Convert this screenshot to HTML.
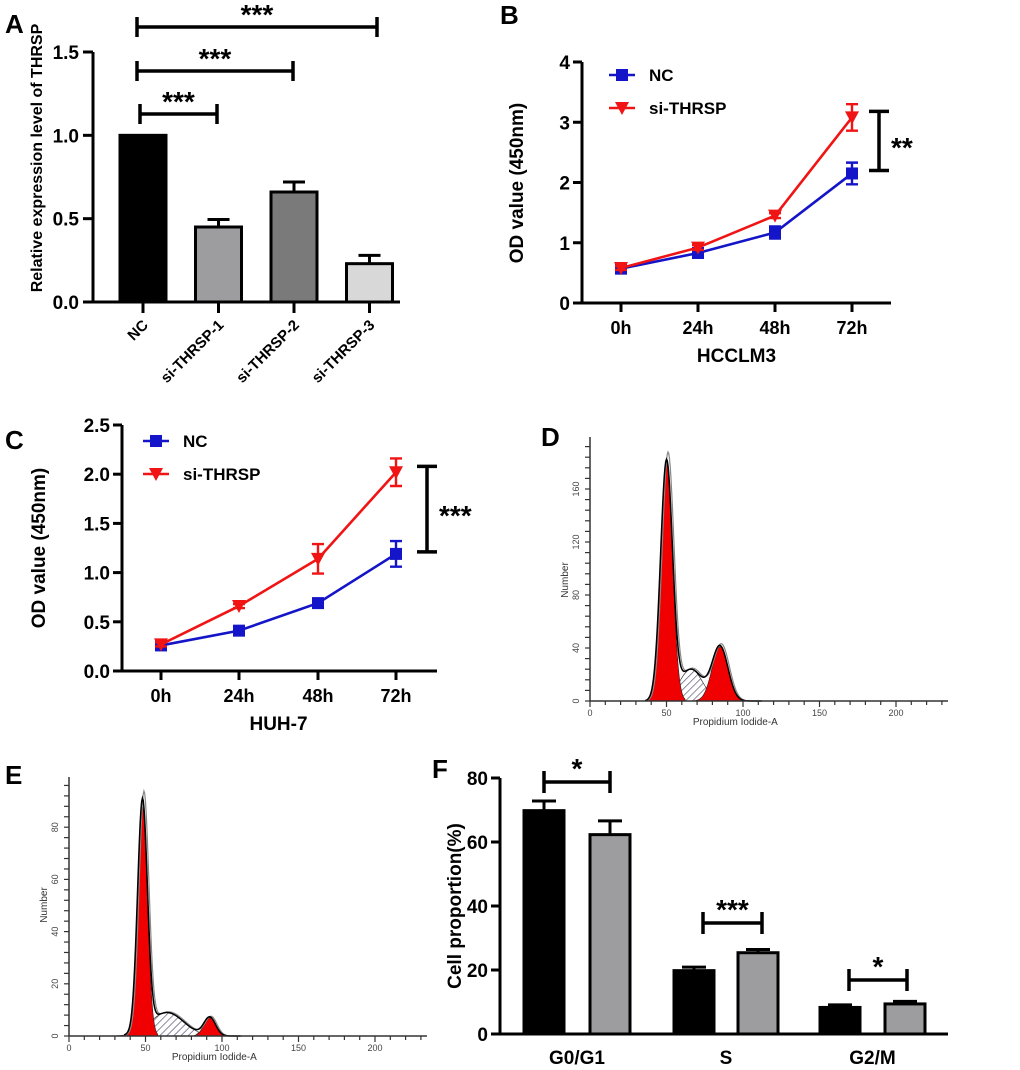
<!DOCTYPE html>
<html><head><meta charset="utf-8"><style>
body{margin:0;background:#fff}
svg{display:block;font-family:"Liberation Sans",Arial,sans-serif}
.b{font-weight:bold}
</style></head><body>
<svg id="fig" width="1020" height="1070" viewBox="0 0 1020 1070">
<defs>
<pattern id="hatch" width="5" height="5" patternUnits="userSpaceOnUse" patternTransform="rotate(45)"><rect width="5" height="5" fill="#fff"/><line x1="0" y1="0" x2="0" y2="5" stroke="#4a4a6a" stroke-width="1.3"/></pattern>
</defs>
<g id="A"></g>
<g id="B"></g>
<g id="C"></g>
<g id="D"></g>
<g id="E"></g>
<g id="F"></g>
</svg>
<script>
// Panel A data
const aCats = ["NC","si-THRSP-1","si-THRSP-2","si-THRSP-3"];
const aVals = [1.0,0.45,0.66,0.23];
const aErr = [0,0.045,0.06,0.05];
const aTicks = [0,0.5,1.0,1.5];
// Panel B data
const timeCats = ["0h","24h","48h","72h"];
const bNC = [0.57,0.83,1.17,2.15];
const bNCerr = [0.03,0.05,0.1,0.18];
const bSi = [0.58,0.92,1.45,3.08];
const bSiErr = [0.03,0.04,0.04,0.22];
const bTicks = [0,1,2,3,4];
// Panel C data
const cNC = [0.26,0.41,0.69,1.19];
const cNCerr = [0.02,0.02,0.03,0.13];
const cSi = [0.27,0.66,1.14,2.02];
const cSiErr = [0.02,0.02,0.15,0.14];
const cTicks = [0,0.5,1.0,1.5,2.0,2.5];
// Panel D flow components [mean, height, sd]
const dG1 = [50,180,3.9];
const dS = [66,24,7.5];
const dG2 = [85,41,5.2];
const dYTicks = [0,40,80,120,160];
// Panel E flow components
const eG1 = [48,88,3.2];
const eS = [64,9,11];
const eG2 = [92,7,3.8];
const eYTicks = [0,20,40,60,80];
const flowXTicks = [0,50,100,150,200];
// Panel F data
const fCats = ["G0/G1","S","G2/M"];
const fNC = [69.8,19.8,8.3];
const fNCerr = [3.0,1.1,0.8];
const fSi = [62.3,25.4,9.4];
const fSiErr = [4.3,1.0,0.8];
const fTicks = [0,20,40,60,80];

const NS="http://www.w3.org/2000/svg";
function mk(parent,tag,attrs,text){const e=document.createElementNS(NS,tag);for(const k in attrs)e.setAttribute(k,attrs[k]);if(text!==undefined)e.textContent=text;parent.appendChild(e);return e;}

// ---------- Panel A ----------
(function(){
const g=document.getElementById('A');
const x0=93,y0=302,ys=v=>y0-v*(250/1.5);
const cx=i=>143+i*75.5;
let t=mk(g,'text',{x:5,y:33,'font-size':26,'class':'b'},'A');


const fills=['#000','#9d9da0','#7a7a7a','#d8d8d8'];
aVals.forEach((v,i)=>{
 let r=mk(g,'rect',{x:cx(i)-23,y:ys(v),width:46,height:y0-ys(v),fill:fills[i],stroke:'#000','stroke-width':3});
 
 
 if(aErr[i]>0){mk(g,'path',{d:`M${cx(i)},${ys(v)} V${ys(v+aErr[i])} M${cx(i)-11},${ys(v+aErr[i])} H${cx(i)+11}`,stroke:'#000','stroke-width':3,fill:'none'});}
 mk(g,'line',{x1:cx(i),y1:y0,x2:cx(i),y2:y0+11,stroke:'#000','stroke-width':3});
 let l=mk(g,'text',{x:cx(i)+6,y:y0+24,'font-size':15,'class':'b','text-anchor':'end',transform:`rotate(-45 ${cx(i)+6} ${y0+24})`},aCats[i]);
 
 
});
mk(g,'path',{d:`M${x0},${ys(1.5)} V${y0} H400`,stroke:'#000','stroke-width':3,fill:'none'});
aTicks.forEach(v=>{mk(g,'line',{x1:x0-10,y1:ys(v),x2:x0,y2:ys(v),stroke:'#000','stroke-width':3});
 let l=mk(g,'text',{x:x0-14,y:ys(v)+7,'font-size':19,'class':'b','text-anchor':'end'},v.toFixed(1));
 
 });
let yt=mk(g,'text',{x:42,y:158,'font-size':16,'class':'b','text-anchor':'middle',transform:'rotate(-90 42 158)'},'Relative  expression level of THRSP');


[[137,377,27],[137,293,71],[140,217,114]].forEach(b=>{
 mk(g,'path',{d:`M${b[0]},${b[2]-10}V${b[2]+10}M${b[0]},${b[2]}H${b[1]}M${b[1]},${b[2]-10}V${b[2]+10}`,stroke:'#000','stroke-width':3.5,fill:'none'});
 let s=mk(g,'text',{x:(b[0]+b[1])/2,y:b[2]-3,'font-size':28,'class':'b','text-anchor':'middle'},'***');
 
 
});
})();

// ---------- line panels ----------
function linePanel(id,o){
const g=document.getElementById(id);
const ys=v=>o.y0-v*o.k, xs=i=>o.xt[i];
let t=mk(g,'text',{x:o.lx,y:o.ly,'font-size':26,'class':'b'},id);


mk(g,'path',{d:`M${o.x0},${ys(o.ticks[o.ticks.length-1])} V${o.y0} H${o.xe}`,stroke:'#000','stroke-width':3,fill:'none'});
o.ticks.forEach(v=>{mk(g,'line',{x1:o.x0-9,y1:ys(v),x2:o.x0,y2:ys(v),stroke:'#000','stroke-width':3});
 let l=mk(g,'text',{x:o.x0-12,y:ys(v)+7,'font-size':19,'class':'b','text-anchor':'end'},o.fmt(v));
 
 });
timeCats.forEach((c,i)=>{mk(g,'line',{x1:xs(i),y1:o.y0,x2:xs(i),y2:o.y0+9,stroke:'#000','stroke-width':3});
 let l=mk(g,'text',{x:xs(i),y:o.y0+31,'font-size':18,'class':'b','text-anchor':'middle'},c);
 
 });
let xt=mk(g,'text',{x:(xs(0)+xs(3))/2,y:o.y0+59,'font-size':19,'class':'b','text-anchor':'middle'},o.xtitle);


let yt=mk(g,'text',{x:o.ytx,y:o.yty,'font-size':19,'class':'b','text-anchor':'middle',transform:`rotate(-90 ${o.ytx} ${o.yty})`},'OD value (450nm)');


function series(vals,errs,col,shape,name){
 const sg=mk(g,'g',{});
 
 
 mk(sg,'polyline',{points:vals.map((v,i)=>xs(i)+','+ys(v)).join(' '),fill:'none',stroke:col,'stroke-width':2.6});
 vals.forEach((v,i)=>{const x=xs(i),yt=ys(v+errs[i]),yb=ys(v-errs[i]);
  mk(sg,'path',{d:`M${x},${yt}V${yb}M${x-6},${yt}H${x+6}M${x-6},${yb}H${x+6}`,stroke:col,'stroke-width':2.4,fill:'none'});
  marker(sg,x,ys(v),col,shape);});
}
function marker(p,x,y,col,shape){
 if(shape==='sq')mk(p,'rect',{x:x-6,y:y-6,width:12,height:12,fill:col});
 else mk(p,'path',{d:`M${x-7},${y-6}H${x+7}L${x},${y+7}Z`,fill:col});
}
series(o.nc,o.ncErr,'#1414c8','sq','nc');
series(o.si,o.siErr,'#f01414','tri','si-thrsp');
[['NC','#1414c8','sq',o.legY1],['si-THRSP','#f01414','tri',o.legY2]].forEach(L=>{
 const lg=mk(g,'g',{});
 
 
 mk(lg,'line',{x1:o.legX,y1:L[3],x2:o.legX+26,y2:L[3],stroke:L[1],'stroke-width':2.6});
 marker(lg,o.legX+13,L[3],L[1],L[2]);
 mk(lg,'text',{x:o.legX+40,y:L[3]+6,'font-size':17,'class':'b'},L[0]);
});
const bx=o.br[0],b1=ys(o.br[1]),b2=ys(o.br[2]);
mk(g,'path',{d:`M${bx-10},${b1}H${bx+10}M${bx},${b1}V${b2}M${bx-10},${b2}H${bx+10}`,stroke:'#000','stroke-width':3.5,fill:'none'});
let s=mk(g,'text',{x:bx+12,y:(b1+b2)/2+16,'font-size':28,'class':'b'},o.stars);


}
linePanel('B',{x0:582,y0:303,k:60.25,xe:891,xt:[621,698,775,852],ticks:bTicks,fmt:v=>String(v),nc:bNC,ncErr:bNCerr,si:bSi,siErr:bSiErr,xtitle:'HCCLM3',ytx:523,yty:183,legX:609,legY1:75,legY2:108,br:[879,3.18,2.2],stars:'**',lx:500,ly:24});
linePanel('C',{x0:122,y0:671,k:98.4,xe:437,xt:[161,239,318,396],ticks:cTicks,fmt:v=>v.toFixed(1),nc:cNC,ncErr:cNCerr,si:cSi,siErr:cSiErr,xtitle:'HUH-7',ytx:45,yty:548,legX:143,legY1:441,legY2:474,br:[427,2.08,1.21],stars:'***',lx:5,ly:449});

// ---------- flow histograms ----------
function gauss(p,x){return p[1]*Math.exp(-0.5*Math.pow((x-p[0])/p[2],2));}
function flowPanel(id,o){
const g=document.getElementById(id);
const xs=v=>o.x0+v*1.53, ys=v=>o.y0-v*o.k;
let t=mk(g,'text',{x:o.lx,y:o.ly,'font-size':26,'class':'b'},id);


function area(p,fill,name){
 let pts=[];for(let x=p[0]-3.2*p[2];x<=p[0]+3.2*p[2];x+=0.5)pts.push(xs(x)+','+ys(gauss(p,x)));
 let a=mk(g,'polygon',{points:`${xs(p[0]-3.2*p[2])},${o.y0} `+pts.join(' ')+` ${xs(p[0]+3.2*p[2])},${o.y0}`,fill:fill,stroke:'#222','stroke-width':0.6});
 
 
}
area(o.S,'url(#hatch)','s-phase-area');
area(o.G1,'#f00000','g1-peak');
area(o.G2,'#f00000','g2-peak');
let env=[],env2=[];for(let x=36;x<=112;x+=0.5){const v=gauss(o.G1,x)+gauss(o.S,x)+gauss(o.G2,x);env.push(xs(x)+','+ys(v));env2.push((xs(x)+1.5)+','+ys(v*1.03));}
mk(g,'polyline',{points:env2.join(' '),fill:'none',stroke:'#888','stroke-width':1.2});
let e=mk(g,'polyline',{points:env.join(' '),fill:'none',stroke:'#000','stroke-width':1.5});


mk(g,'path',{d:`M${o.x0},${o.top}V${o.y0}H${o.xe}`,stroke:'#333','stroke-width':1.5,fill:'none'});
for(let v=0;v<=230;v+=10){mk(g,'line',{x1:xs(v),y1:o.y0,x2:xs(v),y2:o.y0+(v%50===0?6:4),stroke:'#333','stroke-width':1.2});}
flowXTicks.forEach(v=>{let l=mk(g,'text',{x:xs(v),y:o.y0+15,'font-size':9,fill:'#444','text-anchor':'middle'},String(v));
 
 });
for(let v=0;ys(v)>=o.top;v+=o.minor){mk(g,'line',{x1:o.x0-5,y1:ys(v),x2:o.x0,y2:ys(v),stroke:'#333','stroke-width':1.2});}
o.yt.forEach(v=>{const yy=ys(v);let l=mk(g,'text',{x:o.x0-11,y:yy,'font-size':9,fill:'#444','text-anchor':'middle',transform:`rotate(-90 ${o.x0-11} ${yy})`},String(v));
 
 });
let xl=mk(g,'text',{x:xs(95),y:o.y0+24,'font-size':10,fill:'#333','text-anchor':'middle'},'Propidium Iodide-A');


let yl=mk(g,'text',{x:o.x0-22,y:o.yly,'font-size':10,fill:'#333','text-anchor':'middle',transform:`rotate(-90 ${o.x0-22} ${o.yly})`},'Number');


}
flowPanel('D',{x0:590,y0:701,k:1.325,top:437,xe:948,G1:dG1,S:dS,G2:dG2,yt:dYTicks,minor:8,yly:580,lx:541,ly:446});
flowPanel('E',{x0:69,y0:1036,k:2.61,top:777,xe:427,G1:eG1,S:eS,G2:eG2,yt:eYTicks,minor:4,yly:905,lx:5,ly:784});

// ---------- Panel F ----------
(function(){
const g=document.getElementById('F');
const x0=500,y0=1034,ys=v=>y0-v*3.2;
const ncX=[544,694,840],siX=[610,758,905];
let t=mk(g,'text',{x:432,y:778,'font-size':26,'class':'b'},'F');


function bar(x,v,e,fill,name){
 mk(g,'path',{d:`M${x},${ys(v)}V${ys(v+e)}M${x-12},${ys(v+e)}H${x+12}`,stroke:'#000','stroke-width':3,fill:'none'});
 let r=mk(g,'rect',{x:x-20,y:ys(v),width:40,height:y0-ys(v),fill:fill,stroke:'#000','stroke-width':3});
 
 
}
fCats.forEach((c,i)=>{
 bar(ncX[i],fNC[i],fNCerr[i],'#000','bar-nc-'+c.toLowerCase().replace('/',''));
 bar(siX[i],fSi[i],fSiErr[i],'#9d9da0','bar-si-'+c.toLowerCase().replace('/',''));
 let l=mk(g,'text',{x:(ncX[i]+siX[i])/2,y:y0+30,'font-size':19,'class':'b','text-anchor':'middle'},c);
 
 
});
mk(g,'path',{d:`M${x0},${ys(80)}V${y0}H948`,stroke:'#000','stroke-width':3,fill:'none'});
fTicks.forEach(v=>{mk(g,'line',{x1:x0-9,y1:ys(v),x2:x0,y2:ys(v),stroke:'#000','stroke-width':3});
 let l=mk(g,'text',{x:x0-12,y:ys(v)+7,'font-size':19,'class':'b','text-anchor':'end'},String(v));
 
 });
let yt=mk(g,'text',{x:461,y:906,'font-size':19,'class':'b','text-anchor':'middle',transform:'rotate(-90 461 906)'},'Cell proportion(%)');


[[544,610,782,'*'],[703,762,923,'***'],[849,907,980,'*']].forEach(b=>{
 mk(g,'path',{d:`M${b[0]},${b[2]-11}V${b[2]+11}M${b[0]},${b[2]}H${b[1]}M${b[1]},${b[2]-11}V${b[2]+11}`,stroke:'#000','stroke-width':3.5,fill:'none'});
 let s=mk(g,'text',{x:(b[0]+b[1])/2,y:b[2]-4,'font-size':28,'class':'b','text-anchor':'middle'},b[3]);
 
 
});
})();
</script>
</body></html>
